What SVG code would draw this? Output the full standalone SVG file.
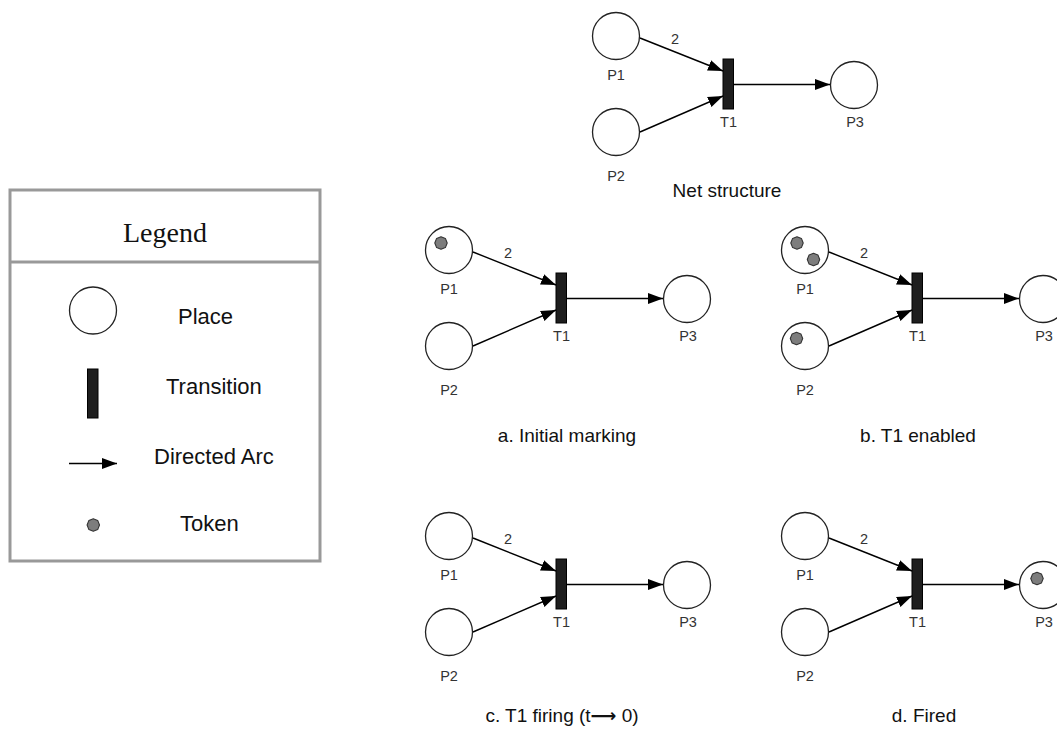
<svg xmlns="http://www.w3.org/2000/svg" xmlns:xlink="http://www.w3.org/1999/xlink" width="1057" height="729" viewBox="0 0 1057 729">
  <style>
    .place { fill: #fff; stroke: #222; stroke-width: 1.3; }
    .trans { fill: #1e1e1e; stroke: #000; stroke-width: 1; }
    .arc { stroke: #000; stroke-width: 1.4; fill: none; marker-end: url(#arrow); }
    .token { fill: #7d7d7d; stroke: #333; stroke-width: 1.1; stroke-linejoin: round; }
    .lbl { font-family: "Liberation Sans", Arial, sans-serif; font-size: 14.5px; fill: #333; text-anchor: middle; }
    .cap { font-family: "Liberation Sans", Arial, sans-serif; font-size: 19px; fill: #111; text-anchor: middle; }
    .leg { font-family: "Liberation Sans", Arial, sans-serif; font-size: 22px; fill: #111; }
    .legtitle { font-family: "Liberation Serif", "Times New Roman", serif; font-size: 28px; fill: #111; text-anchor: middle; }
  </style>
  <defs>
    <marker id="arrow" markerUnits="userSpaceOnUse" markerWidth="16" markerHeight="12" viewBox="0 0 16 12" refX="15" refY="6" orient="auto">
      <path d="M0,0.5 L15,6 L0,11.5 Z" fill="#000"/>
    </marker>
    <!-- token: small rounded polygonal dot, centred at origin -->
    <polygon id="tok" class="token" points="6.2,0 4.4,4.6 0,6.2 -4.4,4.6 -6.2,0 -4.4,-4.6 0,-6.2 4.4,-4.6"/>
  </defs>

  <rect width="1057" height="729" fill="#fff"/>

  <!-- Legend box -->
  <g id="legend">
    <rect x="10" y="190" width="310" height="371" fill="#fff" stroke="#999" stroke-width="3"/>
    <line x1="10" y1="262" x2="320" y2="262" stroke="#999" stroke-width="3"/>
    <text class="legtitle" x="165" y="242">Legend</text>
    <circle class="place" cx="93" cy="310.5" r="23.5"/>
    <text class="leg" x="178" y="323.5">Place</text>
    <rect class="trans" x="87.5" y="369" width="10.5" height="49"/>
    <text class="leg" x="166" y="394">Transition</text>
    <line class="arc" x1="69" y1="463.5" x2="117" y2="463.5"/>
    <text class="leg" x="154" y="464">Directed Arc</text>
    <use xlink:href="#tok" x="93.3" y="525"/>
    <text class="leg" x="180" y="531">Token</text>
  </g>

  <!-- Net structure -->
  <g id="net-structure" transform="translate(167,-214)">
    <g id="ns-P1"><circle class="place" cx="449" cy="250" r="23.5"/><text class="lbl" x="449" y="294">P1</text></g>
    <g id="ns-P2"><circle class="place" cx="449" cy="346" r="23.5"/><text class="lbl" x="449" y="395">P2</text></g>
    <g id="ns-T1"><rect class="trans" x="556" y="273" width="10.5" height="50"/><text class="lbl" x="561.5" y="341">T1</text></g>
    <g id="ns-P3"><circle class="place" cx="687" cy="299" r="23.5"/><text class="lbl" x="688" y="341">P3</text></g>
    <g id="ns-arcs">
      <line class="arc" x1="473" y1="252" x2="556" y2="285"/>
      <line class="arc" x1="473" y1="346" x2="556" y2="310"/>
      <line class="arc" x1="566.5" y1="298.5" x2="663" y2="298.5"/>
      <text class="lbl" x="508" y="258">2</text>
    </g>
  </g>
  <text class="cap" x="727" y="197">Net structure</text>

  <!-- a. Initial marking -->
  <g id="net-a">
    <g id="a-P1"><circle class="place" cx="449" cy="250" r="23.5"/><use xlink:href="#tok" x="441" y="243"/><text class="lbl" x="449" y="294">P1</text></g>
    <g id="a-P2"><circle class="place" cx="449" cy="346" r="23.5"/><text class="lbl" x="449" y="395">P2</text></g>
    <g id="a-T1"><rect class="trans" x="556" y="273" width="10.5" height="50"/><text class="lbl" x="561.5" y="341">T1</text></g>
    <g id="a-P3"><circle class="place" cx="687" cy="299" r="23.5"/><text class="lbl" x="688" y="341">P3</text></g>
    <g id="a-arcs">
      <line class="arc" x1="473" y1="252" x2="556" y2="285"/>
      <line class="arc" x1="473" y1="346" x2="556" y2="310"/>
      <line class="arc" x1="566.5" y1="298.5" x2="663" y2="298.5"/>
      <text class="lbl" x="508" y="258">2</text>
    </g>
  </g>
  <text class="cap" x="567" y="442">a. Initial marking</text>

  <!-- b. T1 enabled -->
  <g id="net-b" transform="translate(356,0)">
    <g id="b-P1"><circle class="place" cx="449" cy="250" r="23.5"/><use xlink:href="#tok" x="441" y="243"/><use xlink:href="#tok" x="457.5" y="259.5"/><text class="lbl" x="449" y="294">P1</text></g>
    <g id="b-P2"><circle class="place" cx="449" cy="346" r="23.5"/><use xlink:href="#tok" x="440.5" y="338.5"/><text class="lbl" x="449" y="395">P2</text></g>
    <g id="b-T1"><rect class="trans" x="556" y="273" width="10.5" height="50"/><text class="lbl" x="561.5" y="341">T1</text></g>
    <g id="b-P3"><circle class="place" cx="687" cy="299" r="23.5"/><text class="lbl" x="688" y="341">P3</text></g>
    <g id="b-arcs">
      <line class="arc" x1="473" y1="252" x2="556" y2="285"/>
      <line class="arc" x1="473" y1="346" x2="556" y2="310"/>
      <line class="arc" x1="566.5" y1="298.5" x2="663" y2="298.5"/>
      <text class="lbl" x="508" y="258">2</text>
    </g>
  </g>
  <text class="cap" x="918" y="442">b. T1 enabled</text>

  <!-- c. T1 firing -->
  <g id="net-c" transform="translate(0,286)">
    <g id="c-P1"><circle class="place" cx="449" cy="250" r="23.5"/><text class="lbl" x="449" y="294">P1</text></g>
    <g id="c-P2"><circle class="place" cx="449" cy="346" r="23.5"/><text class="lbl" x="449" y="395">P2</text></g>
    <g id="c-T1"><rect class="trans" x="556" y="273" width="10.5" height="50"/><text class="lbl" x="561.5" y="341">T1</text></g>
    <g id="c-P3"><circle class="place" cx="687" cy="299" r="23.5"/><text class="lbl" x="688" y="341">P3</text></g>
    <g id="c-arcs">
      <line class="arc" x1="473" y1="252" x2="556" y2="285"/>
      <line class="arc" x1="473" y1="346" x2="556" y2="310"/>
      <line class="arc" x1="566.5" y1="298.5" x2="663" y2="298.5"/>
      <text class="lbl" x="508" y="258">2</text>
    </g>
  </g>
  <text class="cap" x="562" y="722">c. T1 firing (t<tspan font-family="'DejaVu Sans', sans-serif" font-weight="bold" font-size="18">⟶</tspan> 0)</text>

  <!-- d. Fired -->
  <g id="net-d" transform="translate(356,286)">
    <g id="d-P1"><circle class="place" cx="449" cy="250" r="23.5"/><text class="lbl" x="449" y="294">P1</text></g>
    <g id="d-P2"><circle class="place" cx="449" cy="346" r="23.5"/><text class="lbl" x="449" y="395">P2</text></g>
    <g id="d-T1"><rect class="trans" x="556" y="273" width="10.5" height="50"/><text class="lbl" x="561.5" y="341">T1</text></g>
    <g id="d-P3"><circle class="place" cx="687" cy="299" r="23.5"/><use xlink:href="#tok" x="681" y="292.5"/><text class="lbl" x="688" y="341">P3</text></g>
    <g id="d-arcs">
      <line class="arc" x1="473" y1="252" x2="556" y2="285"/>
      <line class="arc" x1="473" y1="346" x2="556" y2="310"/>
      <line class="arc" x1="566.5" y1="298.5" x2="663" y2="298.5"/>
      <text class="lbl" x="508" y="258">2</text>
    </g>
  </g>
  <text class="cap" x="924" y="722">d. Fired</text>
</svg>
